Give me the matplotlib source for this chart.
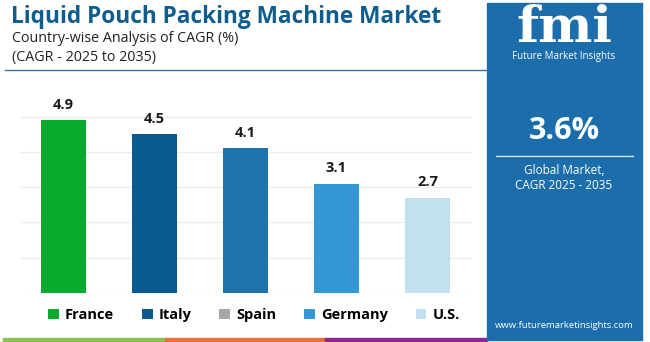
import matplotlib.pyplot as plt
from matplotlib.patches import Rectangle, Patch
from matplotlib.lines import Line2D

countries = ["France", "Italy", "Spain", "Germany", "U.S."]
cagr = [4.9, 4.5, 4.1, 3.1, 2.7]
bar_colors = ["#0aaa2e", "#0b5a8f", "#1f73ad", "#3497d6", "#c3e0f1"]
legend_colors = ["#0aaa2e", "#0b5a8f", "#a6a6a6", "#3497d6", "#c3e0f1"]

title = "Liquid Pouch Packing Machine Market"
subtitle = "Country-wise Analysis of CAGR (%)"
subtitle2 = "(CAGR - 2025 to 2035)"
global_cagr = "3.6%"

plt.rcParams['font.family'] = ['Open Sans', 'DejaVu Sans']

W, H = 650, 342
fig = plt.figure(figsize=(6.5, 3.42), dpi=100)
fig.patch.set_facecolor("white")

def fx(px):
    return px / W

def fy(py):
    return 1 - py / H

# bar chart
ax = fig.add_axes([fx(20), fy(293), fx(452), fy(100) - fy(293)])
x = list(range(len(countries)))
ax.bar(x, cagr, width=0.495, color=bar_colors, zorder=2)
ax.set_xlim(-0.48, 4.49)
ax.set_ylim(0, 5.47)
ax.set_yticks([0, 1, 2, 3, 4, 5])
ax.grid(axis="y", color="#ececec", linewidth=0.8, zorder=0)
ax.tick_params(left=False, bottom=False, labelleft=False, labelbottom=False)
for s in ax.spines.values():
    s.set_visible(False)
for xi, v in zip(x, cagr):
    ax.annotate(f"{v}", (xi, v), xytext=(0, 6), textcoords="offset points",
                ha="center", va="bottom", fontsize=10.5, fontweight="bold",
                color="#1a1a1a")

# titles
fig.text(fx(11), fy(17), title, fontsize=16.3, fontweight="bold",
         color="#0f5c8f", va="center", ha="left")
fig.text(fx(12), fy(38), subtitle, fontsize=10.3, color="#222222",
         va="center", ha="left")
fig.text(fx(12), fy(57), subtitle2, fontsize=10.3, color="#222222",
         va="center", ha="left")
fig.add_artist(Line2D([fx(5), fx(487)], [fy(70), fy(70)],
                      color="#2a78b5", linewidth=1.0))

# legend
handles = [Patch(facecolor=c, edgecolor="none") for c in legend_colors]
fig.legend(handles, countries, loc="center", bbox_to_anchor=(fx(254), fy(315)),
           ncol=5, frameon=False, handlelength=0.75, handleheight=0.75,
           handletextpad=0.4, columnspacing=1.9,
           prop={"weight": "bold", "size": 10.5})

# bottom stripes
for x0, x1, c in [(3, 165, "#8dc152"), (165, 325, "#e8703a"), (325, 487, "#8e2a8e")]:
    fig.add_artist(Rectangle((fx(x0), 0), fx(x1 - x0), 4 / H,
                             color=c, transform=fig.transFigure))

# right panel
fig.add_artist(Rectangle((fx(487), fy(340)), fx(155), fy(3) - fy(340),
                         color="#1b6dab", transform=fig.transFigure))
fig.text(fx(564), fy(28), "fmi", fontsize=37, fontweight="bold", color="white",
         ha="center", va="center", family=["DejaVu Serif"])
fig.text(fx(564), fy(57), "Future Market Insights", fontsize=7, color="white",
         ha="center", va="center")
fig.text(fx(564), fy(131), global_cagr, fontsize=22, fontweight="bold",
         color="white", ha="center", va="center")
fig.add_artist(Line2D([fx(496), fx(633)], [fy(156), fy(156)],
                      color="#cfe3f3", linewidth=1.0))
fig.text(fx(564), fy(171), "Global Market,", fontsize=8.5, color="white",
         ha="center", va="center")
fig.text(fx(564), fy(185), "CAGR 2025 - 2035", fontsize=8.5, color="white",
         ha="center", va="center")
fig.text(fx(564), fy(326), "www.futuremarketinsights.com", fontsize=6.8,
         color="white", ha="center", va="center")

fig.savefig("out.png", dpi=100)
